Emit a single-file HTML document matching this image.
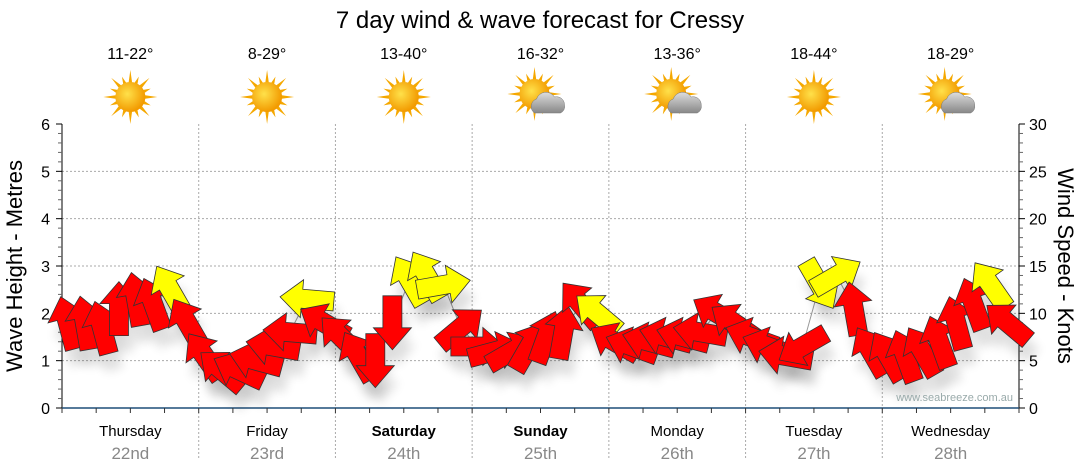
<!DOCTYPE html>
<html><head><meta charset="utf-8"><style>
body{margin:0;background:#fff;}
svg{display:block;font-family:"Liberation Sans",sans-serif;}
</style></head><body>
<svg id="c" width="1080" height="475" viewBox="0 0 1080 475">
<defs>
<radialGradient id="sunG" cx="0.4" cy="0.4" r="0.6"><stop offset="0" stop-color="#ffe14a"/><stop offset="1" stop-color="#f29a00"/></radialGradient>
<linearGradient id="cloudG" x1="0" y1="0" x2="0" y2="1"><stop offset="0" stop-color="#ddd"/><stop offset="1" stop-color="#888"/></linearGradient>
<filter id="sh" x="-50%" y="-50%" width="200%" height="200%"><feGaussianBlur stdDeviation="5"/></filter>
</defs>
<text x="540" y="28" text-anchor="middle" font-size="24">7 day wind &amp; wave forecast for Cressy</text>
<g id="grid"></g><g id="axes"></g><g id="icons"></g><g id="shadows"></g><g id="arrows"></g>
<text x="1013" y="401" text-anchor="end" font-size="11" fill="#9aa">www.seabreeze.com.au</text>
<text transform="translate(22,266) rotate(-90)" text-anchor="middle" font-size="22">Wave Height - Metres</text>
<text transform="translate(1058,266) rotate(90)" text-anchor="middle" font-size="22">Wind Speed - Knots</text>
</svg>
<script>
const days=["Thursday","Friday","Saturday","Sunday","Monday","Tuesday","Wednesday"];
const dates=["22nd","23rd","24th","25th","26th","27th","28th"];
const boldDays=[false,false,true,true,false,false,false];
const temps=["11-22°","8-29°","13-40°","16-32°","13-36°","18-44°","18-29°"];
const cloudy=[false,false,false,true,true,false,true];
const waveTicks=[0,1,2,3,4,5,6];
const windTicks=[0,5,10,15,20,25,30];
const windHours=[1,4,7,10,13,16,19,22, 25,28,31,34,37,40,43,46, 49,52,55,58,61,64,67,70, 73,76,79,82,85,88,91,94, 97,100,103,106,109,112,115,118, 121,124,127,130,133,136,139,142, 145,148,151,154,157,160,163,166];
const windSpeed=[9,9,8.5,10.5,11.5,11,12.5,9, 5.5,4,4,5,6.5,8,11.5,9, 7.5,5.5,5,9,13.5,14,13,8.5, 6.5,6,6,6.5,7.5,8,11,10, 7,6.5,7,7.5,7.5,8,10,9, 7.5,6.5,5.5,6.5,13,14,10.5,6, 5.5,5.5,6,7,9,11,13,9];
const windDir=[-15,-10,-15,0,-10,-20,-30,-30, -35,-50,-65,-75,-80,-85,-85,-60, -45,-30,180,180,-30,-30,80,50, 90,75,60,30,20,10,-40,-50, -60,-70,-75,-75,-75,-80,-60,-55, -70,-70,-80,-120,150,60,-10,-30, -30,-20,-30,-20,-15,-20,-35,-50];
const windYellow=[0,0,0,0,0,0,1,0, 0,0,0,0,0,0,1,0, 0,0,0,0,1,1,1,0, 0,0,0,0,0,0,0,1, 0,0,0,0,0,0,0,0, 0,0,0,0,1,1,0,0, 0,0,0,0,0,0,1,0];

const NS="http://www.w3.org/2000/svg";
const X0=62,X1=1019,Y0=408,YT=124;
const dayW=(X1-X0)/7;
const xH=h=>X0+h*dayW/24;
const yM=m=>Y0-(Y0-YT)*m/6;
const yK=k=>Y0-(Y0-YT)*k/30;
function mk(tag,attrs,parent){const e=document.createElementNS(NS,tag);for(const k in attrs)e.setAttribute(k,attrs[k]);parent.appendChild(e);return e;}
const grid=document.getElementById('grid'),axes=document.getElementById('axes'),icons=document.getElementById('icons'),arrows=document.getElementById('arrows'),shadows=document.getElementById('shadows');
waveTicks.forEach(v=>{if(v>0&&v<6){const l=mk('line',{x1:X0,x2:X1,y1:yM(v),y2:yM(v),stroke:'#aaa','stroke-dasharray':'2,2'},grid);

}});
for(let d=1;d<7;d++){const l=mk('line',{x1:X0+d*dayW,x2:X0+d*dayW,y1:YT,y2:460,stroke:'#aaa','stroke-dasharray':'2,2'},grid);

}
mk('line',{x1:X0,x2:X0,y1:YT,y2:Y0,stroke:'#000'},axes);
mk('line',{x1:X1,x2:X1,y1:YT,y2:Y0,stroke:'#000'},axes);
mk('line',{x1:X0,x2:X1,y1:Y0,y2:Y0,stroke:'#1f4e79','stroke-width':1.5},axes);
for(let i=0;i<=30;i++){const y=yM(i/5);const maj=i%5==0;mk('line',{x1:X0-(maj?6:4),x2:X0,y1:y,y2:y,stroke:maj?'#000':'#666'},axes);}
for(let i=0;i<=30;i++){const y=yK(i);const maj=i%5==0;mk('line',{x1:X1,x2:X1+(maj?6:4),y1:y,y2:y,stroke:maj?'#000':'#666'},axes);}
for(let h=0;h<=168;h+=6){mk('line',{x1:xH(h),x2:xH(h),y1:Y0,y2:Y0+5,stroke:'#333'},axes);}
waveTicks.forEach(v=>{const t=mk('text',{x:X0-12,y:yM(v)+6,'text-anchor':'end','font-size':16},axes);t.textContent=v;

});
windTicks.forEach(v=>{const t=mk('text',{x:X1+10,y:yK(v)+6,'font-size':16},axes);t.textContent=v;

});
days.forEach((d,i)=>{const cx=X0+(i+0.5)*dayW;
const t=mk('text',{x:cx,y:436,'text-anchor':'middle','font-size':15,'font-weight':boldDays[i]?'bold':'normal'},axes);t.textContent=d;


const t2=mk('text',{x:cx,y:459,'text-anchor':'middle','font-size':17,fill:'#888'},axes);t2.textContent=dates[i];


const t3=mk('text',{x:cx,y:59,'text-anchor':'middle','font-size':16},icons);t3.textContent=temps[i];


const g=mk('g',{transform:`translate(${cx},97)`},icons);


const sx=cloudy[i]?-6:0,sy=cloudy[i]?-3:0;
for(let r=0;r<16;r++){const a=r*Math.PI/8;const L=r%2?22:27;
mk('polygon',{points:`${sx+Math.cos(a-0.13)*14},${sy+Math.sin(a-0.13)*14} ${sx+Math.cos(a)*L},${sy+Math.sin(a)*L} ${sx+Math.cos(a+0.13)*14},${sy+Math.sin(a+0.13)*14}`,fill:'#f5a800'},g);}
mk('circle',{cx:sx,cy:sy,r:15,fill:'url(#sunG)'},g);
if(cloudy[i]){mk('path',{d:'M-6,16 a8,8 0 0 1 2,-14 a10,10 0 0 1 18,-2 a8,8 0 0 1 10,8 a7,7 0 0 1 -4,8 z',fill:'url(#cloudG)',stroke:'#777','stroke-width':0.5},g);}
});
let pts=windHours.map((h,i)=>`${xH(h)},${yK(windSpeed[i])}`).join(' ');
mk('polyline',{points:pts,fill:'none',stroke:'#999','stroke-width':1},shadows);
const shape="M0,-27 L19,-5 L9.5,-5 L9.5,27 L-9.5,27 L-9.5,-5 L-19,-5 Z";
windHours.forEach((h,i)=>{const x=xH(h),y=yK(windSpeed[i]);
const s=mk('path',{d:shape,transform:`translate(${x+5},${y+16}) rotate(${windDir[i]})`,fill:'#000',opacity:0.12,filter:'url(#sh)'},shadows);


const a=mk('path',{d:shape,transform:`translate(${x},${y}) rotate(${windDir[i]})`,fill:windYellow[i]?'#ffff00':'#ff0000',stroke:'#333','stroke-width':0.8},arrows);


});
</script>
</body></html>
